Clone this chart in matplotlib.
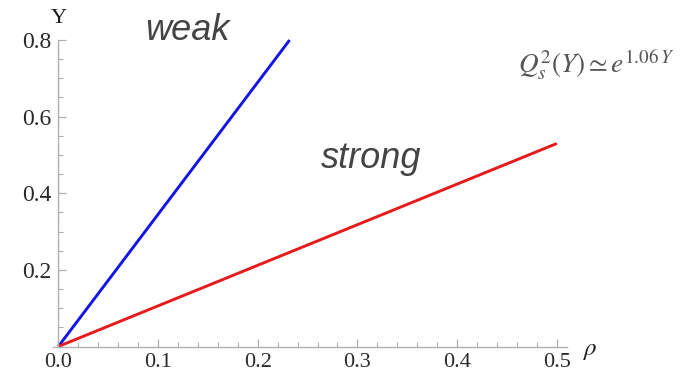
import matplotlib.pyplot as plt
from matplotlib.ticker import MultipleLocator

# boundary lines in the (rho, Y) plane
rho_weak = [0.0, 0.232]
Y_weak = [0.0, 0.8]
rho_strong = [0.0, 0.5]
Y_strong = [0.0, 0.53]

x_ticks = [0.0, 0.1, 0.2, 0.3, 0.4, 0.5]
y_ticks = [0.2, 0.4, 0.6, 0.8]

plt.rcParams['mathtext.fontset'] = 'stix'

fig = plt.figure(figsize=(6.87, 3.74), dpi=100)
ax = fig.add_axes([0.0776, 0.0735, 0.7475, 0.8195])

ax.plot(rho_weak, Y_weak, color='#1414e6', lw=2.1, clip_on=False, solid_capstyle='butt')
ax.plot(rho_strong, Y_strong, color='#e61a1a', lw=2.1, clip_on=False, solid_capstyle='butt')

ax.set_xlim(-0.005, 0.51)
ax.set_ylim(0, 0.8)

# Mathematica-like axes crossing at the origin
for side in ['top', 'right']:
    ax.spines[side].set_visible(False)
ax.spines['left'].set_position(('data', 0))
ax.spines['bottom'].set_position(('data', 0))
for side in ['left', 'bottom']:
    ax.spines[side].set_color('#b0b0b0')
    ax.spines[side].set_linewidth(1.0)
ax.spines['left'].set_bounds(0, 0.8)

ax.set_xticks(x_ticks)
ax.set_yticks(y_ticks)
ax.set_xticklabels(['%.1f' % v for v in x_ticks])
ax.set_yticklabels(['%.1f' % v for v in y_ticks])
ax.xaxis.set_minor_locator(MultipleLocator(0.02))
ax.yaxis.set_minor_locator(MultipleLocator(0.05))
ax.tick_params(which='major', direction='in', length=6, width=0.9, color='#b0b0b0',
               labelsize=17, labelcolor='#2a2a2a')
ax.tick_params(axis='x', which='major', pad=4.5, labelsize=16)
ax.tick_params(axis='y', which='major', pad=5)
ax.tick_params(which='minor', direction='in', length=3.5, width=0.8, color='#b0b0b0')
for lab in ax.get_xticklabels() + ax.get_yticklabels():
    lab.set_fontfamily('Liberation Serif')

ax.text(0.001, 0.855, 'Y', fontsize=16, family='Liberation Serif', color='#1a1a1a',
        ha='center', va='center')
ax.text(0.533, -0.01, r'$\rho$', fontsize=18, color='#222222', ha='center', va='center')

ax.text(0.13, 0.825, 'weak', fontsize=26, style='italic', family='Liberation Sans',
        color='#444444', ha='center', va='center')
ax.text(0.314, 0.49, 'strong', fontsize=26, style='italic', family='Liberation Sans',
        color='#444444', ha='center', va='center')
ax.text(0.461, 0.735, r'$Q_s^2(Y)\simeq e^{1.06\,Y}$', fontsize=19.5, color='#555555',
        ha='left', va='center')

fig.savefig('out.png', dpi=100)
